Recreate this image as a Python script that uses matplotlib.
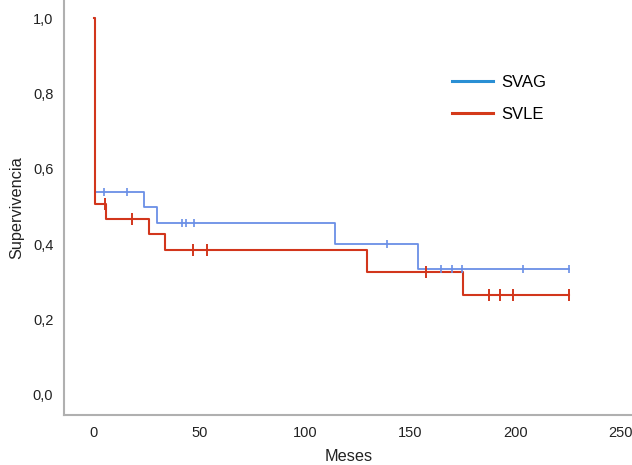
import numpy as np
import matplotlib
matplotlib.use('Agg')
import matplotlib.pyplot as plt
from matplotlib.lines import Line2D
from matplotlib.ticker import FuncFormatter

plt.rcParams['font.family'] = ['Liberation Sans', 'DejaVu Sans']

# survival curves (time of drop, level after drop)
svag_t = [0, 0.7, 23.9, 30.1, 114.5, 153.9, 225.6]
svag_s = [1.0, 0.538, 0.498, 0.457, 0.400, 0.333, 0.333]
svle_t = [0, 0.3, 5.7, 26.2, 33.7, 129.4, 175.0, 225.6]
svle_s = [1.0, 0.507, 0.467, 0.426, 0.385, 0.325, 0.265, 0.265]

# censored observations
svag_cens = [4.9, 15.8, 41.8, 43.9, 47.5, 138.9, 164.7, 169.8, 174.8, 203.7, 225.6]
svle_cens = [5.2, 18.2, 47.1, 53.5, 157.6, 187.6, 192.9, 198.7, 225.6]

blue_line = '#6a8fe6'
red_line = '#d2361c'
blue_leg = '#2a8fd4'
red_leg = '#d43a1a'


def level_at(times, surv, x):
    idx = np.searchsorted(times, x, side='right') - 1
    return np.array(surv)[idx]


fig = plt.figure(figsize=(6.32, 4.65), dpi=100)
ax = fig.add_axes([0.102, 0.1086, 0.898, 0.8914])

ax.step(svag_t, svag_s, where='post', color=blue_line, lw=1.3)
ax.step(svle_t, svle_s, where='post', color=red_line, lw=1.5)
ax.plot(svag_cens, level_at(svag_t, svag_s, svag_cens), ls='none',
        marker='|', ms=6, mew=1.2, color=blue_line)
ax.plot(svle_cens, level_at(svle_t, svle_s, svle_cens), ls='none',
        marker='|', ms=8, mew=1.4, color=red_line)

ax.set_xlim(-14, 255.3)
ax.set_ylim(-0.052, 1.048)
ax.set_xticks([0, 50, 100, 150, 200, 250])
ax.set_yticks([0, 0.2, 0.4, 0.6, 0.8, 1.0])
ax.yaxis.set_major_formatter(FuncFormatter(lambda v, p: f'{v:.1f}'.replace('.', ',')))
ax.tick_params(length=0, labelsize=10.5, colors='#222222')
ax.tick_params(axis='y', pad=8)
ax.tick_params(axis='x', pad=8)

for s in ['top', 'right']:
    ax.spines[s].set_visible(False)
for s in ['left', 'bottom']:
    ax.spines[s].set_color('#b0b0b0')
    ax.spines[s].set_linewidth(1.5)

ax.set_xlabel('Meses', fontsize=11.7, color='#222222', labelpad=7)
ax.set_ylabel('Supervivencia', fontsize=11.7, color='#222222', labelpad=6)

handles = [Line2D([], [], color=blue_leg, lw=2.2),
           Line2D([], [], color=red_leg, lw=2.2)]
ax.legend(handles, ['SVAG', 'SVLE'], frameon=False, fontsize=12,
          loc='upper left', bbox_to_anchor=(0.656, 0.855),
          handlelength=2.5, handletextpad=0.5, labelspacing=1.0)

fig.savefig('out.png', dpi=100)
